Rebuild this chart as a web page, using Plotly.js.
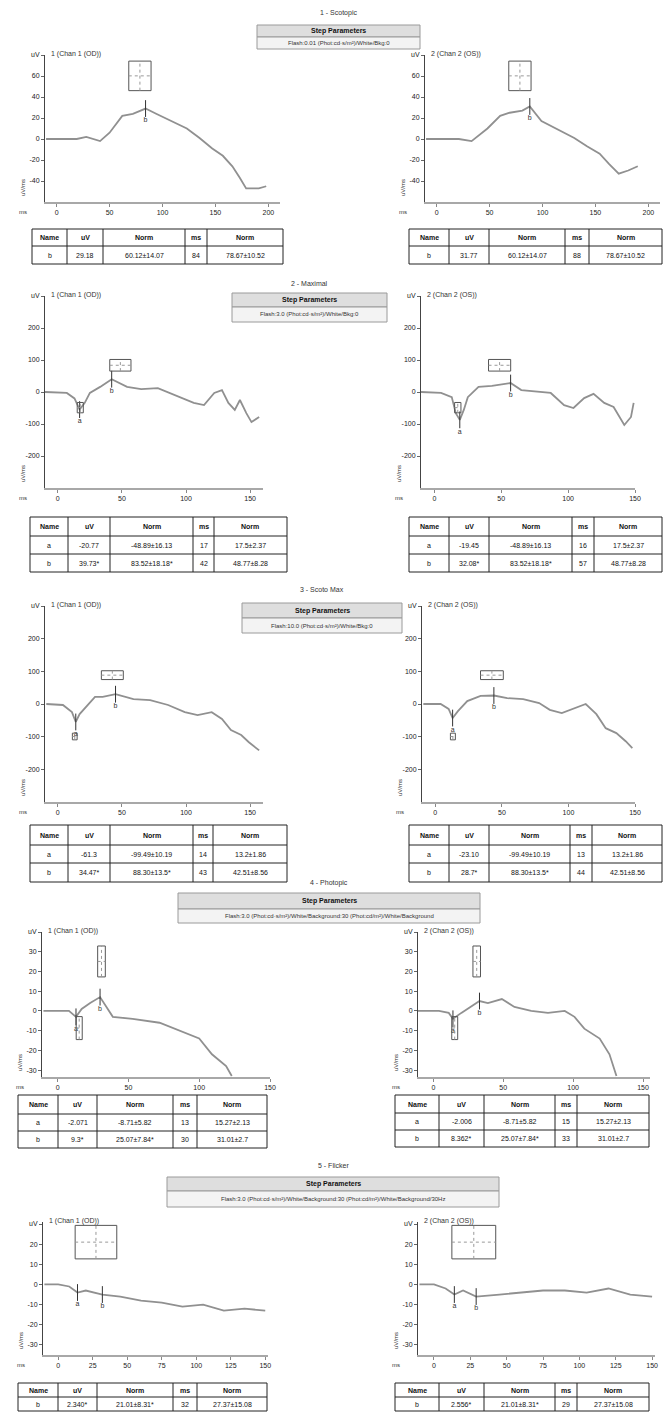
<!DOCTYPE html>
<html><head><meta charset="utf-8">
<script src="https://cdn.plot.ly/plotly-3.0.1.min.js"></script>
<style>html,body{margin:0;padding:0;background:#fff}#chart{width:664px;height:1425px}</style>
</head><body><div id="chart"></div>
<script>
// ---------------- DATA ----------------
const sectionTitles = ["1 - Scotopic", "2 - Maximal", "3 - Scoto Max", "4 - Photopic", "5 - Flicker"];
const stepSubTexts = [
  "Flash:0.01 (Phot:cd·s/m²)/White/Bkg:0",
  "Flash:3.0 (Phot:cd·s/m²)/White/Bkg:0",
  "Flash:10.0 (Phot:cd·s/m²)/White/Bkg:0",
  "Flash:3.0 (Phot:cd·s/m²)/White/Background:30 (Phot:cd/m²)/White/Background",
  "Flash:3.0 (Phot:cd·s/m²)/White/Background:30 (Phot:cd/m²)/White/Background/30Hz"
];
const chartNames = ["1 (Chan 1 (OD))", "2 (Chan 2 (OS))"];
const tableHeader = ["Name", "uV", "Norm", "ms", "Norm"];

// waveforms (ms, uV)
const s1L_ms = [-10, 19, 28, 41, 50, 62, 72, 84, 94, 109, 123, 135, 147, 157, 166, 173, 179, 191, 198];
const s1L_uV = [0, 0, 2, -2, 6, 22, 24, 29, 24, 17, 10, 1, -9, -16, -26, -37, -47, -47, -45];
const s1R_ms = [-10, 21, 33, 48, 60, 69, 81, 88, 99, 117, 130, 142, 154, 163, 172, 181, 190];
const s1R_uV = [0, 0, -2, 10, 22, 25, 27, 31, 17, 8, 1, -7, -14, -24, -33, -30, -26];
const s2L_ms = [-10, 7, 13, 17, 21, 25, 33, 42, 54, 65, 78, 91, 106, 114, 122, 128, 133, 138, 142, 147, 151, 157];
const s2L_uV = [0, -3, -20, -55, -34, -3, 16, 40, 16, 9, 12, -9, -34, -41, -3, 6, -34, -56, -25, -66, -94, -78];
const s2R_ms = [-10, 5, 13, 16, 19, 22, 25, 33, 43, 57, 65, 78, 87, 97, 104, 112, 119, 127, 134, 142, 147, 149];
const s2R_uV = [0, -3, -16, -66, -87, -56, -16, 16, 19, 28, 6, 0, -3, -41, -50, -19, -6, -34, -47, -103, -78, -34];
const s3L_ms = [-9, 4, 11, 14, 17, 24, 29, 35, 45, 59, 72, 86, 99, 109, 120, 128, 135, 143, 149, 157];
const s3L_uV = [0, -3, -25, -55, -31, 0, 22, 22, 30, 15, 12, -3, -25, -34, -25, -46, -80, -95, -117, -142];
const s3R_ms = [-9, 4, 10, 13, 17, 24, 34, 44, 54, 66, 78, 86, 95, 103, 113, 121, 128, 136, 143, 148];
const s3R_uV = [0, 0, -15, -43, -22, 9, 25, 26, 18, 15, 3, -18, -28, -15, 0, -31, -74, -89, -114, -135];
const s4L_ms = [-10, 8, 13, 17, 23, 30, 39, 53, 72, 86, 100, 109, 119, 123];
const s4L_uV = [0, 0, -3, 1, 4, 7, -3, -4, -6, -10, -14, -22, -28, -33];
const s4R_ms = [-11, 4, 11, 14, 20, 27, 33, 39, 49, 58, 70, 82, 94, 101, 108, 119, 126, 131];
const s4R_uV = [0, 0, -1, -4, -1, 2, 5, 4, 6, 2, 0, -1, 0, -3, -9, -14, -22, -33];
const s5L_ms = [-10, 0, 8, 14, 20, 26, 32, 45, 60, 75, 90, 105, 120, 135, 150];
const s5L_uV = [0, 0, -1, -4, -3, -4, -5, -6, -8, -9, -11, -10, -13, -12, -13];
const s5R_ms = [-10, 0, 8, 14, 20, 29, 45, 60, 75, 90, 105, 120, 135, 150];
const s5R_uV = [0, 0, -2, -5, -3, -6, -5, -4, -3, -3, -4, -2, -5, -6];

// peak markers: [name, ms, uV]
const s1L_marks = [["b", 84, 29]];
const s1R_marks = [["b", 88, 31]];
const s2L_marks = [["a", 17, -55], ["b", 42, 40]];
const s2R_marks = [["a", 19, -87], ["b", 57, 28]];
const s3L_marks = [["a", 14, -55], ["b", 45, 30]];
const s3R_marks = [["a", 13, -43], ["b", 44, 26]];
const s4L_marks = [["a", 13, -3], ["b", 30, 7]];
const s4R_marks = [["a", 14, -4], ["b", 33, 5]];
const s5L_marks = [["a", 14, -4], ["b", 32, -5]];
const s5R_marks = [["a", 14, -5], ["b", 29, -6]];

// norms: [name, uV mean, uV sd, ms mean, ms sd]
const s1_norms = [["b", 60.12, 14.07, 78.67, 10.52]];
const s2_norms = [["a", -48.89, 16.13, 17.5, 2.37], ["b", 83.52, 18.18, 48.77, 8.28]];
const s3_norms = [["a", -99.49, 10.19, 13.2, 1.86], ["b", 88.30, 13.5, 42.51, 8.56]];
const s4_norms = [["a", -8.71, 5.82, 15.27, 2.13], ["b", 25.07, 7.84, 31.01, 2.7]];
const s5_norms = [["b", 21.01, 8.31, 27.37, 15.08]];

// result tables
const s1L_rows = [["b", "29.18", "60.12±14.07", "84", "78.67±10.52"]];
const s1R_rows = [["b", "31.77", "60.12±14.07", "88", "78.67±10.52"]];
const s2L_rows = [["a", "-20.77", "-48.89±16.13", "17", "17.5±2.37"], ["b", "39.73*", "83.52±18.18*", "42", "48.77±8.28"]];
const s2R_rows = [["a", "-19.45", "-48.89±16.13", "16", "17.5±2.37"], ["b", "32.08*", "83.52±18.18*", "57", "48.77±8.28"]];
const s3L_rows = [["a", "-61.3", "-99.49±10.19", "14", "13.2±1.86"], ["b", "34.47*", "88.30±13.5*", "43", "42.51±8.56"]];
const s3R_rows = [["a", "-23.10", "-99.49±10.19", "13", "13.2±1.86"], ["b", "28.7*", "88.30±13.5*", "44", "42.51±8.56"]];
const s4L_rows = [["a", "-2.071", "-8.71±5.82", "13", "15.27±2.13"], ["b", "9.3*", "25.07±7.84*", "30", "31.01±2.7"]];
const s4R_rows = [["a", "-2.006", "-8.71±5.82", "15", "15.27±2.13"], ["b", "8.362*", "25.07±7.84*", "33", "31.01±2.7"]];
const s5L_rows = [["b", "2.340*", "21.01±8.31*", "32", "27.37±15.08"]];
const s5R_rows = [["b", "2.556*", "21.01±8.31*", "29", "27.37±15.08"]];

// axis ticks
const s1_xticks = [0, 50, 100, 150, 200];
const s1_yticks = [-40, -20, 0, 20, 40, 60, 80];
const s1_ylabels = ["-40", "-20", "0", "20", "40", "60", "uV"];
const s23_xticks = [0, 50, 100, 150];
const s23_yticks = [-200, -100, 0, 100, 200, 300];
const s23_ylabels = ["-200", "-100", "0", "100", "200", "uV"];
const s4_xticks = [0, 50, 100, 150];
const s4_yticks = [-30, -20, -10, 0, 10, 20, 30, 40];
const s4_ylabels = ["-30", "-20", "-10", "0", "10", "20", "30", "uV"];
const s5_xticks = [0, 25, 50, 75, 100, 125, 150];
const s5_yticks = [-30, -20, -10, 0, 10, 20, 30];
const s5_ylabels = ["-30", "-20", "-10", "0", "10", "20", "uV"];

// ---------------- LAYOUT GEOMETRY (pixels) ----------------
const W = 664, H = 1425;
const FONT = "Liberation Sans, Arial, sans-serif";
function fx(x) { return x / W; }
function fy(y) { return 1 - y / H; }

const sections = [
  { title: 13, box: [257, 420, 25, 37, 49] },
  { title: 283, box: [232, 387, 293, 307, 322] },
  { title: 590, box: [242, 402, 603, 618, 633] },
  { title: 883, box: [178, 480, 893, 909, 923] },
  { title: 1165, box: [167, 499, 1177, 1191, 1207] }
];

const charts = [
  { ms: s1L_ms, uV: s1L_uV, marks: s1L_marks, norms: s1_norms, dom: [45, 280, 55, 202], xr: [-11, 211], yr: [-60, 80], xt: s1_xticks, yt: s1_yticks, yl: s1_ylabels, name: 0, rows: s1L_rows, tx: [32, 67, 103, 185, 207, 283], ty: [229, 246, 264] },
  { ms: s1R_ms, uV: s1R_uV, marks: s1R_marks, norms: s1_norms, dom: [425, 660, 55, 202], xr: [-11, 211], yr: [-60, 80], xt: s1_xticks, yt: s1_yticks, yl: s1_ylabels, name: 1, rows: s1R_rows, tx: [409, 449, 489, 565, 589, 662], ty: [229, 246, 264] },
  { ms: s2L_ms, uV: s2L_uV, marks: s2L_marks, norms: s2_norms, dom: [45, 263, 296, 488], xr: [-10, 160], yr: [-300, 300], xt: s23_xticks, yt: s23_yticks, yl: s23_ylabels, name: 0, rows: s2L_rows, tx: [30, 68, 110, 193, 214, 287], ty: [517, 536, 554, 572] },
  { ms: s2R_ms, uV: s2R_uV, marks: s2R_marks, norms: s2_norms, dom: [421, 635, 296, 488], xr: [-10, 150], yr: [-300, 300], xt: s23_xticks, yt: s23_yticks, yl: s23_ylabels, name: 1, rows: s2R_rows, tx: [409, 449, 489, 572, 594, 662], ty: [517, 536, 554, 572] },
  { ms: s3L_ms, uV: s3L_uV, marks: s3L_marks, norms: s3_norms, dom: [45, 263, 606, 802], xr: [-10, 160], yr: [-300, 300], xt: s23_xticks, yt: s23_yticks, yl: s23_ylabels, name: 0, rows: s3L_rows, tx: [30, 68, 110, 193, 213, 287], ty: [825, 845, 863, 882] },
  { ms: s3R_ms, uV: s3R_uV, marks: s3R_marks, norms: s3_norms, dom: [422, 635, 606, 802], xr: [-10, 150], yr: [-300, 300], xt: s23_xticks, yt: s23_yticks, yl: s23_ylabels, name: 1, rows: s3R_rows, tx: [409, 449, 489, 570, 592, 662], ty: [825, 845, 863, 882] },
  { ms: s4L_ms, uV: s4L_uV, marks: s4L_marks, norms: s4_norms, dom: [42, 270, 932, 1077], xr: [-11, 150], yr: [-33.5, 40], xt: s4_xticks, yt: s4_yticks, yl: s4_ylabels, name: 0, rows: s4L_rows, tx: [18, 58, 97, 173, 197, 267], ty: [1095, 1114, 1131, 1148] },
  { ms: s4R_ms, uV: s4R_uV, marks: s4R_marks, norms: s4_norms, dom: [418, 650, 932, 1077], xr: [-11, 155], yr: [-33.5, 40], xt: s4_xticks, yt: s4_yticks, yl: s4_ylabels, name: 1, rows: s4R_rows, tx: [395, 439, 484, 555, 577, 649], ty: [1095, 1113, 1130, 1147] },
  { ms: s5L_ms, uV: s5L_uV, marks: s5L_marks, norms: s5_norms, dom: [43, 268, 1222, 1355], xr: [-11, 152], yr: [-35, 31], xt: s5_xticks, yt: s5_yticks, yl: s5_ylabels, name: 0, rows: s5L_rows, tx: [18, 58, 97, 173, 197, 267], ty: [1383, 1397, 1411] },
  { ms: s5R_ms, uV: s5R_uV, marks: s5R_marks, norms: s5_norms, dom: [418, 655, 1222, 1355], xr: [-11, 152], yr: [-35, 31], xt: s5_xticks, yt: s5_yticks, yl: s5_ylabels, name: 1, rows: s5R_rows, tx: [395, 439, 484, 555, 577, 649], ty: [1383, 1397, 1411] }
];

// ---------------- BUILD ----------------
const traces = [];
const shapes = [];
const annotations = [];
const layout = {
  width: W, height: H, margin: { l: 0, r: 0, t: 0, b: 0 },
  paper_bgcolor: "#fff", plot_bgcolor: "rgba(0,0,0,0)", showlegend: false,
  font: { family: FONT, size: 7, color: "#222" }
};

function txt(x, y, text, opts) {
  annotations.push(Object.assign({ xref: "paper", yref: "paper", x: fx(x), y: fy(y), text: text, showarrow: false,
    font: { family: FONT, size: 7, color: "#222" }, xanchor: "center", yanchor: "middle" }, opts || {}));
}
function rect(x0, y0, x1, y1, fill, line, w) {
  shapes.push({ type: "rect", xref: "paper", yref: "paper", x0: fx(x0), x1: fx(x1), y0: fy(y0), y1: fy(y1),
    fillcolor: fill, line: { color: line, width: w === undefined ? 1 : w }, layer: "below" });
}
function pline(x0, y0, x1, y1, color, w) {
  shapes.push({ type: "line", xref: "paper", yref: "paper", x0: fx(x0), x1: fx(x1), y0: fy(y0), y1: fy(y1),
    line: { color: color, width: w || 1 } });
}

sections.forEach(function (s, i) {
  const b = s.box;
  const cx = (b[0] + b[1]) / 2;
  txt(cx, s.title, sectionTitles[i], { font: { family: FONT, size: 7, color: "#333" } });
  rect(b[0], b[2], b[1], b[3], "#dedede", "#9a9a9a", 1);
  txt(cx, (b[2] + b[3]) / 2, "<b>Step Parameters</b>", { font: { family: FONT, size: 7, color: "#111" } });
  rect(b[0], b[3], b[1], b[4], "#f3f3f3", "#9a9a9a", 1);
  txt(cx, (b[3] + b[4]) / 2, stepSubTexts[i], { font: { family: FONT, size: 6, color: "#333" } });
});

charts.forEach(function (c, i) {
  const k = i + 1;
  const xa = k === 1 ? "xaxis" : "xaxis" + k;
  const ya = k === 1 ? "yaxis" : "yaxis" + k;
  const xr = k === 1 ? "x" : "x" + k;
  const yr = k === 1 ? "y" : "y" + k;
  const d = c.dom;
  layout[xa] = {
    domain: [fx(d[0]), fx(d[1])], range: c.xr, anchor: yr, showgrid: false, zeroline: false,
    showline: true, linecolor: "#a8a8a8", linewidth: 2, ticks: "outside", ticklen: 3, tickcolor: "#888",
    tickvals: c.xt, tickfont: { family: FONT, size: 7, color: "#222" }, fixedrange: true
  };
  layout[ya] = {
    domain: [fy(d[3]), fy(d[2])], range: c.yr, anchor: xr, showgrid: false, zeroline: false,
    showline: true, linecolor: "#444", linewidth: 1, ticks: "outside", ticklen: 3, tickcolor: "#666",
    tickvals: c.yt, ticktext: c.yl, tickfont: { family: FONT, size: 7, color: "#222" }, fixedrange: true
  };
  txt(d[0] + 4, d[2] - 1, chartNames[c.name], { xanchor: "left", font: { family: FONT, size: 7, color: "#333" } });
  txt(d[0] - 22, d[3] + 10, "ms", { font: { family: FONT, size: 6, color: "#333" } });
  txt(d[0] - 22, d[3] - 14, "uV/ms", { textangle: -90, font: { family: FONT, size: 6, color: "#333" } });

  c.norms.forEach(function (n) {
    const x0 = n[3] - n[4], x1 = n[3] + n[4];
    const y0 = Math.max(n[1] - n[2], c.yr[0]), y1 = Math.min(n[1] + n[2], c.yr[1]);
    shapes.push({ type: "rect", xref: xr, yref: yr, x0: x0, x1: x1, y0: y0, y1: y1,
      fillcolor: "rgba(0,0,0,0)", line: { color: "#555", width: 1 } });
    shapes.push({ type: "line", xref: xr, yref: yr, x0: x0, x1: x1, y0: n[1], y1: n[1],
      line: { color: "#999", width: 1, dash: "dot" } });
    shapes.push({ type: "line", xref: xr, yref: yr, x0: n[3], x1: n[3], y0: y0, y1: y1,
      line: { color: "#999", width: 1, dash: "dot" } });
  });

  traces.push({ type: "scatter", mode: "lines", x: c.ms, y: c.uV, xaxis: xr, yaxis: yr,
    line: { color: "#909090", width: 1.8 }, hoverinfo: "skip" });
  traces.push({ type: "scatter", mode: "markers+text", xaxis: xr, yaxis: yr,
    x: c.marks.map(function (m) { return m[1]; }), y: c.marks.map(function (m) { return m[2]; }),
    text: c.marks.map(function (m) { return m[0]; }), textposition: "bottom center",
    textfont: { family: FONT, size: 7, color: "#333" },
    marker: { symbol: "line-ns-open", size: 12, line: { color: "#333", width: 1 }, color: "#333" },
    hoverinfo: "skip" });

  const tx = c.tx, ty = c.ty;
  const all = [tableHeader].concat(c.rows);
  rect(tx[0], ty[0], tx[tx.length - 1], ty[ty.length - 1], "#fff", "#222", 1);
  for (let j = 1; j < tx.length - 1; j++) pline(tx[j], ty[0], tx[j], ty[ty.length - 1], "#222", 1);
  for (let r = 1; r < ty.length - 1; r++) pline(tx[0], ty[r], tx[tx.length - 1], ty[r], "#222", 1);
  all.forEach(function (row, r) {
    row.forEach(function (cell, j) {
      const t = r === 0 ? "<b>" + cell + "</b>" : cell;
      txt((tx[j] + tx[j + 1]) / 2, (ty[r] + ty[r + 1]) / 2, t, { font: { family: FONT, size: 7, color: "#111" } });
    });
  });
});

layout.shapes = shapes;
layout.annotations = annotations;
Plotly.newPlot("chart", traces, layout, { staticPlot: true, displayModeBar: false });
</script></body></html>
